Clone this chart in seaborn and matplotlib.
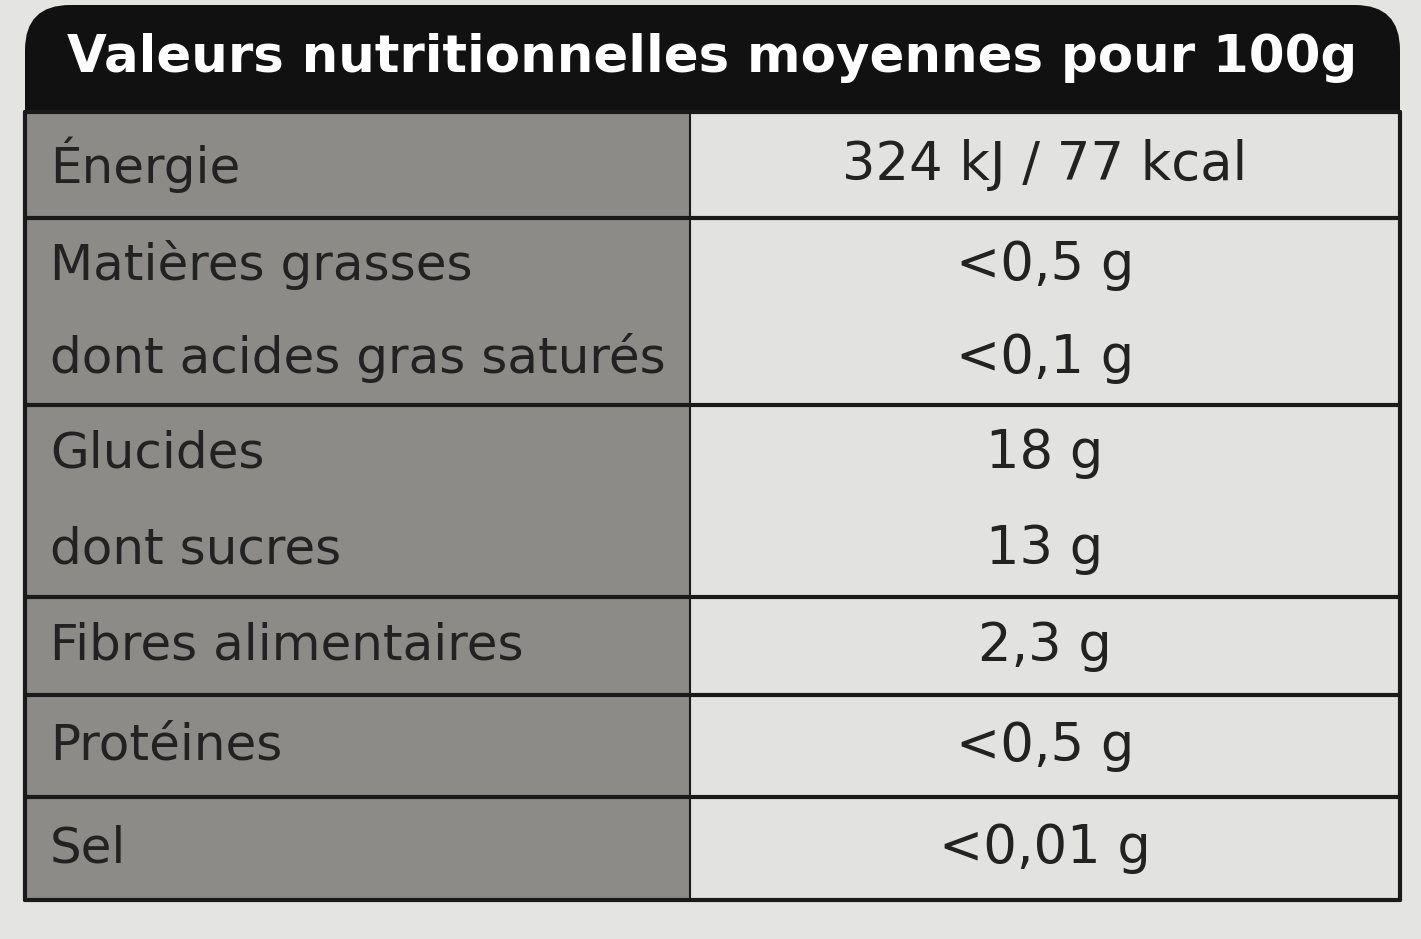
import matplotlib
matplotlib.use("Agg")
import matplotlib.pyplot as plt
import seaborn as sns
from matplotlib.patches import FancyBboxPatch, Rectangle

sns.set_theme(style="white")
plt.rcParams['font.family'] = ['DejaVu Sans']

title = "Valeurs nutritionnelles moyennes pour 100g"
groups = [
    (["Énergie"], ["324 kJ / 77 kcal"]),
    (["Matières grasses", "dont acides gras saturés"], ["<0,5 g", "<0,1 g"]),
    (["Glucides", "dont sucres"], ["18 g", "13 g"]),
    (["Fibres alimentaires"], ["2,3 g"]),
    (["Protéines"], ["<0,5 g"]),
    (["Sel"], ["<0,01 g"]),
]
row_bounds = [112, 218, 405, 597, 695, 797, 900]

fig = plt.figure(figsize=(14.21, 9.39), dpi=100)
fig.patch.set_facecolor("#e4e4e2")
ax = fig.add_axes([0, 0, 1, 1])
ax.set_xlim(0, 1421); ax.set_ylim(939, 0); ax.axis("off")

xl, xm, xr = 25, 690, 1400
ax.add_patch(FancyBboxPatch((xl, 5), xr - xl, 160, boxstyle="round,pad=0,rounding_size=45",
                            fc="#111111", ec="none"))
ax.add_patch(Rectangle((xl, row_bounds[0]), xm - xl, row_bounds[-1] - row_bounds[0], fc="#8c8b88", ec="none"))
ax.add_patch(Rectangle((xm, row_bounds[0]), xr - xm, row_bounds[-1] - row_bounds[0], fc="#e2e2e0", ec="none"))
ax.text(712, 58, title, color="white", fontsize=37, fontweight="bold", ha="center", va="center")

for y in row_bounds:
    ax.plot([xl, xr], [y, y], color="#1a1a1a", lw=3)
ax.plot([xl, xl], [row_bounds[0], row_bounds[-1]], color="#1a1a1a", lw=3)
ax.plot([xr, xr], [row_bounds[0], row_bounds[-1]], color="#1a1a1a", lw=3)
ax.plot([xm, xm], [row_bounds[0], row_bounds[-1]], color="#1a1a1a", lw=1.5)

for i, (labs, vals) in enumerate(groups):
    top, bot = row_bounds[i], row_bounds[i + 1]
    n = len(labs)
    h = (bot - top) / n
    for j in range(n):
        yc = top + h * (j + 0.5)
        ax.text(50, yc, labs[j], fontsize=36, color="#222222", ha="left", va="center")
        ax.text(1045, yc, vals[j], fontsize=38, color="#222222", ha="center", va="center")

fig.savefig("out.png", dpi=100, facecolor=fig.get_facecolor())
